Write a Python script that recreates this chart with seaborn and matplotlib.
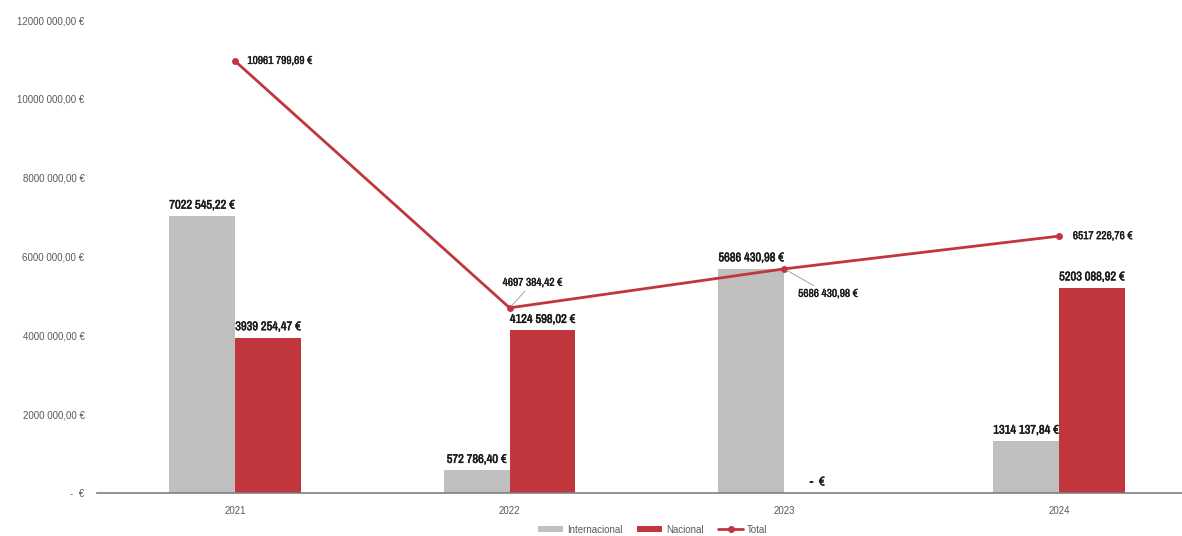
import numpy as np
import pandas as pd
import matplotlib
matplotlib.use("Agg")
import matplotlib.pyplot as plt
from matplotlib import font_manager
import matplotlib.patheffects as pe
from matplotlib.lines import Line2D
from matplotlib.patches import Patch
import seaborn as sns

years = ["2021", "2022", "2023", "2024"]
internacional = [7022545.22, 572786.40, 5686430.98, 1314137.84]
nacional = [3939254.47, 4124598.02, 0.0, 5203088.92]
total = [10961799.69, 4697384.42, 5686430.98, 6517226.76]
series_names = ["Internacional", "Nacional", "Total"]

GRAY = "#BFBFBF"
RED = "#C1353C"
TXT = "#595959"
INK = "#1A1A1A"

sns.set_theme(style="white")
plt.rcParams["font.family"] = ["Liberation Sans", "DejaVu Sans"]

# pick a narrow face for the value labels when one is installed
label_props = dict(family="Liberation Sans", stretch="normal")
bar_size, tot_size = 8.2, 7.4
for f in font_manager.fontManager.ttflist:
    if "Narrow" in f.name or "Condensed" in f.name:
        label_props = dict(family=f.name, stretch="normal")
        bar_size, tot_size = 9, 8.2
        break

# slightly heavier strokes for the value labels
heavy_bar = [pe.withStroke(linewidth=0.35, foreground=INK)]
heavy_tot = [pe.withStroke(linewidth=0.25, foreground=INK)]


def euro(v):
    if v == 0:
        return "-  €"
    s = f"{v:,.2f}".replace(",", " ").replace(".", ",")
    parts = s.split(" ")
    if len(parts) == 3:
        s = parts[0] + parts[1] + " " + parts[2]
    return s + " €"


def axis_euro(v, _pos=None):
    return euro(v)


df = pd.DataFrame({
    "Año": years * 2,
    "Importe": internacional + nacional,
    "Serie": [series_names[0]] * 4 + [series_names[1]] * 4,
})

fig = plt.figure(figsize=(11.82, 5.36), dpi=100)
ax = fig.add_axes([97 / 1182, 1 - 493 / 536, 1 - 97 / 1182, (493 - 20) / 536])

sns.barplot(data=df, x="Año", y="Importe", hue="Serie", order=years,
            hue_order=series_names[:2], palette=[GRAY, RED], width=0.48,
            saturation=1, legend=False, linewidth=0, ax=ax)

pos = np.arange(len(years))
sns.lineplot(x=pos, y=total, color=RED, linewidth=2, marker="o", markersize=5,
             markeredgewidth=0, ax=ax, legend=False)

ax.set_xlim(-0.502, 3.448)
ax.set_ylim(0, 12000000)
ax.set_yticks(np.arange(0, 12000001, 2000000))
ax.yaxis.set_major_formatter(plt.FuncFormatter(axis_euro))
ax.set_xlabel("")
ax.set_ylabel("")
for side in ["top", "right", "left"]:
    ax.spines[side].set_visible(False)
ax.spines["bottom"].set_color("#7F7F7F")
ax.spines["bottom"].set_linewidth(1.2)
ax.tick_params(axis="both", length=0, labelsize=7, labelcolor=TXT)
ax.tick_params(axis="y", pad=9)
ax.tick_params(axis="x", pad=9)

off = 0.12
bar_kw = dict(fontweight="bold", color=INK, path_effects=heavy_bar, **label_props)
tot_kw = dict(fontweight="bold", color=INK, path_effects=heavy_tot, **label_props)
for i in range(len(years)):
    ax.annotate(euro(internacional[i]), (i - off, internacional[i]), xytext=(0, 4),
                textcoords="offset points", ha="center", va="bottom",
                fontsize=bar_size, **bar_kw)
    if nacional[i] == 0:
        ax.annotate(euro(nacional[i]), (i + off, 0), xytext=(0, 8),
                    textcoords="offset points", ha="center", va="center",
                    fontsize=bar_size, **bar_kw)
    else:
        ax.annotate(euro(nacional[i]), (i + off, nacional[i]), xytext=(0, 4),
                    textcoords="offset points", ha="center", va="bottom",
                    fontsize=bar_size, **bar_kw)

tot_offsets = [(9, 0, False), (-5, 18, True), (10, -18, True), (10, 0, False)]
for i, (dx, dy, leader) in enumerate(tot_offsets):
    kw = {}
    if leader:
        kw["arrowprops"] = dict(arrowstyle="-", color="#A6A6A6", lw=0.7,
                                shrinkA=0, shrinkB=2)
    ax.annotate(euro(total[i]), (i, total[i]), xytext=(dx, dy),
                textcoords="offset points", ha="left", va="center",
                fontsize=tot_size, **tot_kw, **kw)

handles = [Patch(facecolor=GRAY, edgecolor="none"),
           Patch(facecolor=RED, edgecolor="none"),
           Line2D([], [], color=RED, lw=2, marker="o", markersize=4)]
fig.legend(handles, series_names, loc="center", bbox_to_anchor=(0.552, 0.012),
           ncol=3, frameon=False, fontsize=7, labelcolor=TXT,
           handlelength=2.6, handleheight=0.6, columnspacing=1.5, handletextpad=0.4)

fig.savefig("out.png", dpi=100)
